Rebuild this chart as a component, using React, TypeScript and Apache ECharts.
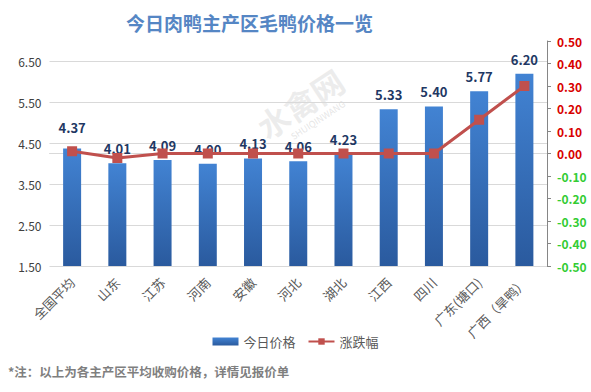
import React, { useEffect, useRef } from "react";
import * as echarts from "echarts";

const categories = ["全国平均", "山东", "江苏", "河南", "安徽", "河北", "湖北", "江西", "四川", "广东(塘口)", "广西（旱鸭）"];
const prices = [4.37, 4.01, 4.09, 4.0, 4.13, 4.06, 4.23, 5.33, 5.4, 5.77, 6.2];
const changes = [0.01, -0.02, 0.0, 0.0, 0.0, 0.0, 0.0, 0.0, 0.0, 0.15, 0.3];
const titleText = "今日肉鸭主产区毛鸭价格一览";
const noteText = "*注：以上为各主产区平均收购价格，详情见报价单";

const FONT = "'Noto Sans CJK SC', 'Noto Sans', sans-serif";

export default function App() {
  const ref = useRef<HTMLDivElement>(null);
  useEffect(() => {
    if (!ref.current) return;
    const chart = echarts.init(ref.current, null, { renderer: "svg" });
    chart.setOption({
      animation: false,
      backgroundColor: "#ffffff",
      textStyle: { fontFamily: FONT },
      title: {
        text: titleText,
        left: 121,
        top: 8,
        textStyle: { fontSize: 19, fontWeight: "bold", color: "#5586c4", fontFamily: FONT },
      },
      graphic: [
        {
          type: "text",
          x: 300,
          y: 103,
          rotation: 0.58,
          z: -10,
          style: {
            text: "水禽网",
            fontSize: 32,
            fontWeight: "bold",
            fill: "rgba(190,190,190,0.28)",
            align: "center",
            verticalAlign: "middle",
            fontFamily: FONT,
          },
        },
        {
          type: "text",
          x: 318,
          y: 120,
          rotation: 0.58,
          z: -10,
          style: {
            text: "SHUIQINWANG",
            fontSize: 9,
            fill: "rgba(190,190,190,0.4)",
            align: "center",
            verticalAlign: "middle",
            fontFamily: FONT,
          },
        },
        {
          type: "text",
          left: 8,
          top: 365,
          style: {
            text: noteText,
            fontSize: 12.5,
            fontWeight: "bold",
            fill: "#7f7f7f",
            fontFamily: FONT,
          },
        },
      ],
      legend: {
        top: 330,
        left: "center",
        itemGap: 12,
        itemWidth: 26,
        itemHeight: 8,
        textStyle: { color: "#595959", fontSize: 13, fontFamily: FONT },
        data: [
          { name: "今日价格", icon: "rect" },
          { name: "涨跌幅" },
        ],
      },
      grid: { left: 49.5, right: 44, top: 41, bottom: 126, containLabel: false },
      xAxis: {
        type: "category",
        data: categories,
        axisLine: { lineStyle: { color: "#d9d9d9" } },
        axisTick: { show: false },
        axisLabel: { rotate: 45, interval: 0, color: "#595959", fontSize: 13, margin: 14, fontFamily: FONT },
      },
      yAxis: [
        {
          type: "value",
          min: 1.5,
          max: 7.0,
          interval: 1,
          axisLine: { show: false },
          axisTick: { show: false },
          axisLabel: {
            showMaxLabel: false,
            color: "#404040",
            fontSize: 12,
            margin: 8,
            formatter: (v: number) => v.toFixed(2),
            fontFamily: FONT,
          },
          splitLine: { show: true, showMaxLine: false, lineStyle: { color: "#d9d9d9" } },
        },
        {
          type: "value",
          min: -0.5,
          max: 0.5,
          interval: 0.1,
          position: "right",
          axisLine: { show: true, lineStyle: { color: "#868686" } },
          axisTick: { show: true, length: 4, lineStyle: { color: "#868686" } },
          axisLabel: {
            fontSize: 12,
            margin: 10,
            fontWeight: "bold",
            formatter: (v: number) => (Math.abs(v) < 1e-9 ? "0.00" : v.toFixed(2)),
            color: (v: any) => (Number(v) < -1e-9 ? "#33cc33" : "#d80000"),
            fontFamily: FONT,
          },
          splitLine: { show: false },
        },
      ],
      series: [
        {
          name: "今日价格",
          type: "bar",
          data: prices.map((v, i) => (i === 0 ? { value: v, label: { distance: 15 } } : v)),
          barWidth: 18,
          itemStyle: {
            color: new echarts.graphic.LinearGradient(0, 0, 0, 1, [
              { offset: 0, color: "#4283d3" },
              { offset: 1, color: "#2a5a9e" },
            ]),
          },
          label: {
            show: true,
            position: "top",
            distance: 8,
            color: "#1f3864",
            fontWeight: "bold",
            fontSize: 13,
            formatter: (p: any) => Number(p.value).toFixed(2),
            fontFamily: FONT,
          },
        },
        {
          name: "涨跌幅",
          type: "line",
          yAxisIndex: 1,
          data: changes,
          symbol: "rect",
          symbolSize: 10,
          z: 5,
          lineStyle: { color: "#c0504d", width: 3 },
          itemStyle: { color: "#c0504d" },
        },
      ],
    });
    return () => chart.dispose();
  }, []);
  return <div ref={ref} style={{ position: "absolute", left: 0, top: 0, width: 591, height: 392 }} />;
}
